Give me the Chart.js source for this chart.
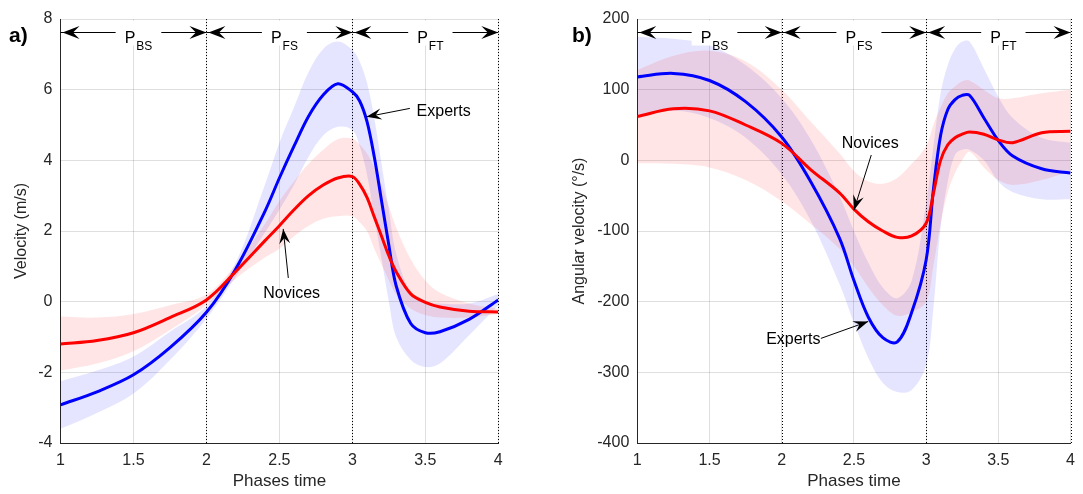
<!DOCTYPE html>
<html>
<head>
<meta charset="utf-8">
<script src="https://cdn.jsdelivr.net/npm/chart.js@4.4.0/dist/chart.umd.min.js"></script>
<style>
  body { margin: 0; background: #fff; }
  #wrap { position: relative; width: 1083px; height: 494px; }
  canvas { position: absolute; top: 0; }
</style>
</head>
<body>
<div id="wrap">
  <canvas id="velocity" width="541" height="494" style="left:0"></canvas>
  <canvas id="angular" width="542" height="494" style="left:541px"></canvas>
</div>
<script>
// sample positions along the normalised phase time axis
const phaseTime = [1, 1.25, 1.5, 1.75, 2, 2.2, 2.4, 2.5, 2.6, 2.7, 2.8, 2.9, 3, 3.05, 3.1, 3.15, 3.2, 3.25, 3.3, 3.4, 3.5, 3.6, 3.8, 4];

// a) velocity (m/s)
const velExpMean  = [-2.92, -2.55, -2.07, -1.3, -0.3, 0.92, 2.55, 3.5, 4.4, 5.25, 5.85, 6.17, 5.94, 5.68, 5.1, 4.1, 2.85, 1.6, 0.45, -0.62, -0.88, -0.85, -0.5, 0.05];
const velExpUpper = [-2.25, -1.95, -1.55, -0.85, -0.12, 1.1, 3.3, 4.5, 5.5, 6.5, 7.15, 7.36, 7.12, 6.8, 6.2, 5.2, 3.9, 2.6, 1.37, 0.25, 0.0, -0.05, -0.05, 0.22];
const velExpLower = [-3.6, -3.15, -2.6, -1.65, -0.48, 0.7, 1.95, 2.6, 3.3, 4.1, 4.7, 4.95, 4.86, 4.4, 3.6, 2.4, 1.2, 0.0, -1.0, -1.65, -1.85, -1.75, -0.95, -0.1];
const velNovMean  = [-1.2, -1.1, -0.88, -0.45, 0.05, 0.85, 1.72, 2.15, 2.6, 3.0, 3.3, 3.5, 3.54, 3.32, 2.95, 2.4, 1.85, 1.3, 0.85, 0.22, -0.02, -0.15, -0.27, -0.29];
const velNovUpper = [-0.42, -0.45, -0.35, -0.1, 0.2, 1.05, 2.2, 2.85, 3.4, 3.9, 4.3, 4.6, 4.62, 4.45, 4.2, 3.8, 3.3, 2.7, 2.1, 1.2, 0.6, 0.25, -0.05, -0.2];
const velNovLower = [-1.95, -1.75, -1.4, -0.8, -0.1, 0.65, 1.25, 1.5, 1.85, 2.15, 2.35, 2.42, 2.42, 2.25, 2.0, 1.5, 1.05, 0.6, 0.2, -0.2, -0.38, -0.45, -0.45, -0.35];

// b) angular velocity (deg/s)
const angExpMean  = [118, 123, 113, 83, 33, -30, -110, -170, -222, -251, -257, -215, -141, -42, 35, 72, 86, 92, 92, 60, 28, 6, -12, -18];
const angExpUpper = [175, 172, 163, 135, 88, 30, -50, -100, -145, -180, -195, -170, -60, 20, 95, 135, 158, 168, 168, 130, 90, 60, 32, 25];
const angExpLower = [62, 70, 60, 32, -20, -85, -175, -230, -280, -315, -328, -325, -290, -210, -95, -30, 8, 15, 15, 0, -30, -45, -55, -55];
const angNovMean  = [62, 73, 70, 50, 24, -13, -46, -69, -87, -100, -109, -107, -89, -47, 0, 22, 32, 37, 40, 37, 29, 25, 39, 41];
const angNovUpper = [128, 148, 155, 140, 100, 55, 10, -15, -30, -33, -25, -5, 20, 50, 75, 95, 105, 112, 113, 100, 88, 88, 95, 100];
const angNovLower = [-4, -5, -10, -28, -58, -90, -125, -150, -180, -205, -220, -215, -200, -150, -90, -45, -18, 0, 12, -10, -28, -35, -28, -15];

// phases
const phaseStart = [1, 2, 3];
const phaseEnd = [2, 3, 4];
const phaseMain = ['P', 'P', 'P'];
const phaseSub = ['BS', 'FS', 'FT'];
const phaseBounds = [2, 3, 4];

const FONT = '"Liberation Sans", Arial, Helvetica, sans-serif';
const TEXT = '#262626';
const GRID = 'rgba(38,38,38,0.15)';
const BLUE = '#0000ff';
const RED = '#ff0000';
const BLUE_BAND = 'rgba(0,0,255,0.1)';
const RED_BAND = 'rgba(255,0,0,0.1)';
const TENSION = 0.35;

const toPoints = (values) => phaseTime.map((x, i) => ({x: x, y: values[i]}));

const meanLine = (values, color) => ({
    data: toPoints(values),
    borderColor: color,
    borderWidth: 3,
    pointRadius: 0,
    fill: false,
    tension: TENSION
});

const band = (upper, lower, color) => [
    {
        data: toPoints(upper),
        borderColor: 'transparent',
        borderWidth: 0,
        pointRadius: 0,
        backgroundColor: color,
        fill: '+1',
        tension: TENSION
    }, {
        data: toPoints(lower),
        borderColor: 'transparent',
        borderWidth: 0,
        pointRadius: 0,
        fill: false,
        tension: TENSION
    }
];

const arrowHead = (ctx, x, y, angle, len, half) => {
    ctx.save();
    ctx.translate(x, y);
    ctx.rotate(angle);
    ctx.beginPath();
    ctx.moveTo(0, 0);
    ctx.lineTo(-len, -half);
    ctx.lineTo(-len * 0.62, 0);
    ctx.lineTo(-len, half);
    ctx.closePath();
    ctx.fill();
    ctx.restore();
};

// dotted phase boundaries, phase arrows, notes and panel letter
const overlayPlugin = {
    id: 'overlays',
    beforeDatasetsDraw(chart) {
        const {ctx, chartArea: area, scales: {x}} = chart;
        ctx.save();
        ctx.strokeStyle = '#000';
        ctx.lineWidth = 1;
        ctx.setLineDash([1, 2]);
        phaseBounds.forEach(v => {
            const px = Math.round(x.getPixelForValue(v)) + 0.5;
            ctx.beginPath();
            ctx.moveTo(px, area.top);
            ctx.lineTo(px, area.bottom);
            ctx.stroke();
        });
        ctx.restore();
    },
    afterDatasetsDraw(chart, args, opts) {
        const {ctx, scales: {x, y}} = chart;
        ctx.save();
        ctx.strokeStyle = '#000';
        ctx.fillStyle = '#000';
        ctx.lineWidth = 1;

        // phase arrows along the top
        const py = Math.round(y.getPixelForValue(opts.phaseY)) + 0.5;
        phaseStart.forEach((start, i) => {
            const x0 = x.getPixelForValue(start);
            const x1 = x.getPixelForValue(phaseEnd[i]);
            ctx.beginPath();
            ctx.moveTo(x0, py);
            ctx.lineTo(x1, py);
            ctx.stroke();
            arrowHead(ctx, x0 + 2, py, Math.PI, 17, 6.5);
            arrowHead(ctx, x1, py, 0, 17, 6.5);

            ctx.font = '16px ' + FONT;
            const wMain = ctx.measureText(phaseMain[i]).width;
            ctx.font = '12px ' + FONT;
            const wSub = ctx.measureText(phaseSub[i]).width;
            const w = wMain + wSub + 1;
            const cx = (x0 + x1) / 2 + 5;
            ctx.fillStyle = '#fff';
            ctx.fillRect(cx - w / 2 - 9, py - 12, w + 18, 25);
            ctx.fillStyle = '#000';
            ctx.textAlign = 'left';
            ctx.textBaseline = 'alphabetic';
            ctx.font = '16px ' + FONT;
            ctx.fillText(phaseMain[i], cx - w / 2, py + 10);
            ctx.font = '12px ' + FONT;
            ctx.fillText(phaseSub[i], cx - w / 2 + wMain + 1, py + 17);
        });

        // notes with arrows
        opts.notes.forEach(n => {
            const tx = x.getPixelForValue(n.tail[0]);
            const ty = y.getPixelForValue(n.tail[1]);
            const hx = x.getPixelForValue(n.head[0]);
            const hy = y.getPixelForValue(n.head[1]);
            ctx.beginPath();
            ctx.moveTo(tx, ty);
            ctx.lineTo(hx, hy);
            ctx.stroke();
            arrowHead(ctx, hx, hy, Math.atan2(hy - ty, hx - tx), 15, 5.5);
            ctx.font = '16px ' + FONT;
            ctx.textAlign = n.align;
            ctx.textBaseline = 'middle';
            ctx.fillText(n.text, x.getPixelForValue(n.at[0]), y.getPixelForValue(n.at[1]));
        });

        // panel letter
        ctx.font = 'bold 21px ' + FONT;
        ctx.textAlign = 'left';
        ctx.textBaseline = 'alphabetic';
        ctx.fillText(opts.letter, opts.letterX, 42);
        ctx.restore();
    }
};

const makeChart = (id, datasets, yRange, yTitle, yWidth, yTitlePad, rightPad, overlays) => new Chart(document.getElementById(id), {
    type: 'line',
    data: {datasets: datasets},
    plugins: [overlayPlugin],
    options: {
        responsive: false,
        animation: false,
        devicePixelRatio: 1,
        layout: {padding: {top: 19, right: rightPad, left: 0, bottom: 0}},
        plugins: {
            legend: {display: false},
            tooltip: {enabled: false},
            overlays: overlays
        },
        scales: {
            x: {
                type: 'linear',
                min: 1,
                max: 4,
                ticks: {
                    stepSize: 0.5,
                    autoSkip: false,
                    maxRotation: 0,
                    padding: 8,
                    color: TEXT,
                    font: {size: 16, family: FONT},
                    callback: v => String(v)
                },
                grid: {color: GRID, drawTicks: false},
                border: {color: TEXT, width: 1},
                title: {display: true, text: 'Phases time', color: TEXT, font: {size: 17, family: FONT}, padding: {top: 0, bottom: 2}},
                afterFit: s => { s.height = 51; }
            },
            y: {
                min: yRange[0],
                max: yRange[1],
                ticks: {
                    stepSize: yRange[2],
                    autoSkip: false,
                    padding: 8,
                    color: TEXT,
                    font: {size: 16, family: FONT}
                },
                grid: {color: GRID, drawTicks: false},
                border: {color: TEXT, width: 1},
                title: {display: true, text: yTitle, color: TEXT, font: {size: 16, family: FONT}, padding: {top: yTitlePad, bottom: 0}},
                afterFit: s => { s.width = yWidth; }
            }
        }
    }
});

makeChart('velocity', [
    meanLine(velNovMean, RED),
    meanLine(velExpMean, BLUE),
    ...band(velNovUpper, velNovLower, RED_BAND),
    ...band(velExpUpper, velExpLower, BLUE_BAND)
], [-4, 8, 2], 'Velocity (m/s)', 60.5, 12, 42.7, {
    letter: 'a)',
    letterX: 9,
    phaseY: 7.64,
    notes: [
        {text: 'Experts', tail: [3.394, 5.47], head: [3.097, 5.23], at: [3.44, 5.38], align: 'left'},
        {text: 'Novices', tail: [2.561, 0.67], head: [2.526, 2.06], at: [2.584, 0.24], align: 'center'}
    ]
});

makeChart('angular', [
    meanLine(angNovMean, RED),
    meanLine(angExpMean, BLUE),
    ...band(angNovUpper, angNovLower, RED_BAND),
    ...band(angExpUpper, angExpLower, BLUE_BAND)
], [-400, 200, 100], 'Angular velocity (°/s)', 96.3, 29, 7.7, {
    letter: 'b)',
    letterX: 31,
    phaseY: 182,
    notes: [
        {text: 'Novices', tail: [2.62, 7.5], head: [2.50, -70.5], at: [2.613, 24], align: 'center'},
        {text: 'Experts', tail: [2.271, -252], head: [2.599, -228], at: [2.08, -254], align: 'center'}
    ]
});
</script>
</body>
</html>
